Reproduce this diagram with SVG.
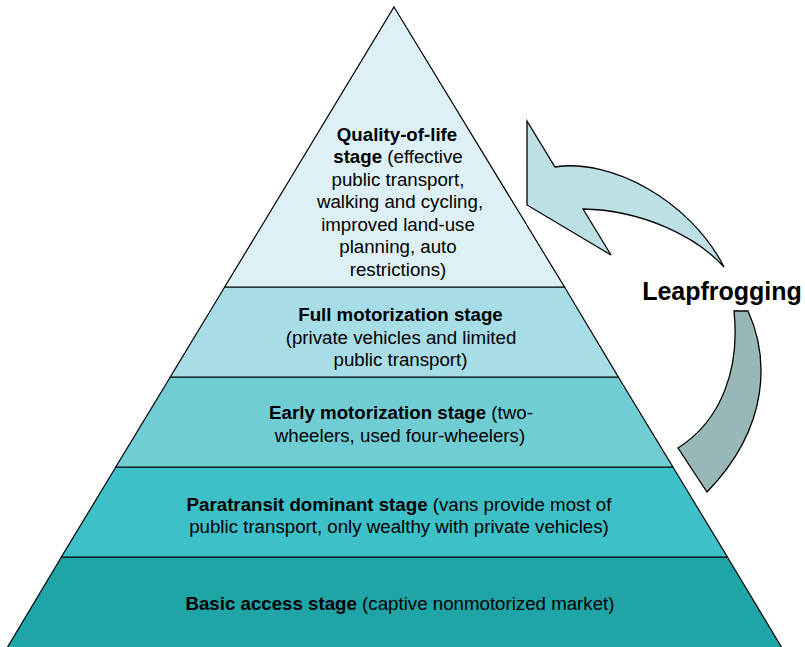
<svg xmlns="http://www.w3.org/2000/svg" width="805" height="647" viewBox="0 0 805 647">
<style>
.band{stroke:#000;stroke-width:1.2;stroke-linejoin:miter}
.t{font-family:"Liberation Sans",Arial,sans-serif;font-size:18.7px;fill:#000;text-anchor:middle}
.b{font-weight:bold}
.arrow{stroke:#000;stroke-width:1.3;stroke-linejoin:miter}
</style>
<rect width="805" height="647" fill="#fff"/>
<g id="stage-basic-access">
<polygon class="band" fill="#1fa5a8" points="61.4,557 727.4,557 782,648 7,648"/>
<text class="t" x="400" y="610"><tspan class="b">Basic access stage</tspan> (captive nonmotorized market)</text>
</g>
<g id="stage-paratransit">
<polygon class="band" fill="#3dc0c7" points="115.8,467 672.9,467 727.4,557 61.4,557"/>
<text class="t" x="399" y="510.5"><tspan class="b">Paratransit dominant stage</tspan> (vans provide most of</text>
<text class="t" x="399" y="533">public transport, only wealthy with private vehicles)</text>
</g>
<g id="stage-early-motorization">
<polygon class="band" fill="#70cdd4" points="170.3,377 618.3,377 672.9,467 115.8,467"/>
<text class="t" x="401" y="419"><tspan class="b">Early motorization stage</tspan> (two-</text>
<text class="t" x="400" y="441.5">wheelers, used four-wheelers)</text>
</g>
<g id="stage-full-motorization">
<polygon class="band" fill="#a7dde6" points="224.7,287 564.5,287 618.3,377 170.3,377"/>
<text class="t b" x="400.5" y="321">Full motorization stage</text>
<text class="t" x="401" y="343.5">(private vehicles and limited</text>
<text class="t" x="400.5" y="366">public transport)</text>
</g>
<g id="stage-quality-of-life">
<polygon class="band" fill="#ddf0f6" points="394,7 564.5,287 224.7,287"/>
<text class="t b" x="397" y="140.5">Quality-of-life</text>
<text class="t" x="398" y="163"><tspan class="b">stage</tspan> (effective</text>
<text class="t" x="398" y="185.5">public transport,</text>
<text class="t" x="400" y="208">walking and cycling,</text>
<text class="t" x="398" y="230.5">improved land-use</text>
<text class="t" x="398" y="253">planning, auto</text>
<text class="t" x="398" y="275.5">restrictions)</text>
</g>
<g id="connectors">
<g id="leapfrogging-arrow">
<path class="arrow" fill="#bce0e4" d="M527,121 L555,167 C610,158 690,200 724,267 C695,235 640,210 583,209 L611,255 L527,205 Z"/>
<path class="arrow" fill="#98b8b8" d="M734,311 L748,311 C768,355 772,425 707,492 L678,448 C722,420 740,368 734,311 Z"/>
</g>
</g>
<g id="label-leapfrogging">
<text x="722" y="300" style="font-family:'Liberation Sans',Arial,sans-serif;font-size:25px;font-weight:bold;text-anchor:middle">Leapfrogging</text>
</g>
</svg>
